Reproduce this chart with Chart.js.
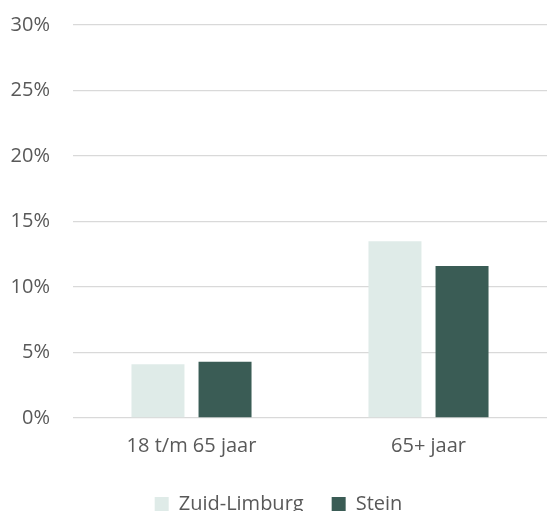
<!DOCTYPE html>
<html>
<head>
<meta charset="utf-8">
<script src="https://cdn.jsdelivr.net/npm/chart.js@4/dist/chart.umd.min.js"></script>
<style>
  html, body { margin: 0; padding: 0; background: #ffffff; }
  #wrap { width: 547px; height: 511px; position: relative; }
</style>
</head>
<body>
<div id="wrap"><canvas id="bars"></canvas></div>
<script>
// age groups on the x axis, share per region in percent
const categories = ['18 t/m 65 jaar', '65+ jaar'];
const zuidLimburg = [4.1, 13.5];
const stein = [4.3, 11.6];

const FONT = '"Open Sans", sans-serif';
const TEXT = '#595959';

new Chart(document.getElementById('bars'), {
  type: 'bar',
  data: {
    labels: categories,
    datasets: [
      { label: 'Zuid-Limburg', data: zuidLimburg, backgroundColor: '#dfebe8', borderWidth: 0 },
      { label: 'Stein', data: stein, backgroundColor: '#3a5c55', borderWidth: 0 }
    ]
  },
  options: {
    responsive: true,
    maintainAspectRatio: false,
    animation: false,
    categoryPercentage: 0.566,
    barPercentage: 0.79,
    layout: { padding: { top: 0, left: 10, right: 0, bottom: -13 } },
    plugins: {
      tooltip: { enabled: false },
      legend: {
        position: 'bottom',
        labels: {
          color: TEXT,
          font: { family: FONT, size: 20 },
          boxWidth: 14,
          boxHeight: 14,
          padding: 28
        }
      }
    },
    scales: {
      x: {
        grid: { display: false, drawTicks: false },
        border: { display: false },
        ticks: { color: TEXT, font: { family: FONT, size: 20 }, padding: 16 },
        // tighter gap between category labels and the legend
        afterFit: (s) => {
          s.height -= 8;
        }
      },
      y: {
        min: 0,
        max: 30,
        ticks: {
          stepSize: 5,
          color: TEXT,
          font: { family: FONT, size: 20 },
          padding: 23,
          callback: (v) => v + '%'
        },
        grid: { color: '#d9d9d9', lineWidth: 1.3, drawTicks: false },
        border: { display: false },
        // fixed axis width and top overhang so the plot starts where the labels need it
        afterFit: (s) => {
          s.width = 63;
          s.paddingTop = 25;
        }
      }
    }
  }
});
</script>
</body>
</html>
